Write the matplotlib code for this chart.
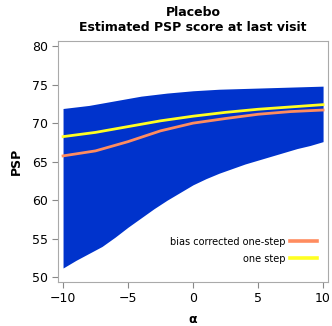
import numpy as np
import matplotlib.pyplot as plt

# values
alpha_band = [-10, -9, -8, -7, -6, -5, -4, -3, -2, -1, 0, 1, 2, 3, 4, 5, 6, 7, 8, 9, 10]
band_upper = [71.9, 72.1, 72.3, 72.6, 72.9, 73.2, 73.5, 73.7, 73.9, 74.05, 74.2,
              74.3, 74.4, 74.45, 74.5, 74.55, 74.6, 74.65, 74.7, 74.75, 74.8]
band_lower = [51.2, 52.2, 53.1, 54.0, 55.2, 56.5, 57.7, 58.9, 60.0, 61.0, 62.0,
              62.8, 63.5, 64.1, 64.7, 65.2, 65.7, 66.2, 66.7, 67.1, 67.6]

alpha_line = [-10, -7.5, -5, -2.5, 0, 2.5, 5, 7.5, 10]
bias_corrected = [65.75, 66.4, 67.6, 69.0, 70.0, 70.6, 71.15, 71.5, 71.7]
one_step = [68.25, 68.8, 69.55, 70.3, 70.9, 71.4, 71.8, 72.1, 72.4]

fig = plt.figure(figsize=(3.32, 3.26), dpi=100)
ax = fig.add_axes([0.175, 0.136, 0.813, 0.739])

ax.fill_between(alpha_band, band_lower, band_upper, color="#0033CC", lw=0)
ax.plot(alpha_line, bias_corrected, color="#FF8C5F", lw=2.0, label="bias corrected one-step")
ax.plot(alpha_line, one_step, color="#FFFF22", lw=2.0, label="one step")

ax.set_xlim(-10.38, 10.38)
ax.set_ylim(49.43, 80.69)
ax.set_xticks([-10, -5, 0, 5, 10])
ax.set_yticks([50, 55, 60, 65, 70, 75, 80])

for s in ax.spines.values():
    s.set_color("#AAAAAA")
ax.tick_params(colors="#888888", labelcolor="black", labelsize=9, length=4)

ax.set_xlabel("α", fontsize=9, fontweight="bold", labelpad=6)
ax.set_ylabel("PSP", fontsize=9, fontweight="bold", labelpad=6)
ax.set_title("Placebo\nEstimated PSP score at last visit", fontsize=9,
             fontweight="bold", pad=7, linespacing=1.2)

leg = ax.legend(loc="lower right", bbox_to_anchor=(0.974, 0.058), borderaxespad=0,
                frameon=False, markerfirst=False, fontsize=7,
                handlelength=2.8, handletextpad=0.4, labelspacing=0.75)
for h in leg.get_lines():
    h.set_linewidth(2.6)

plt.savefig("out.png", dpi=100)
